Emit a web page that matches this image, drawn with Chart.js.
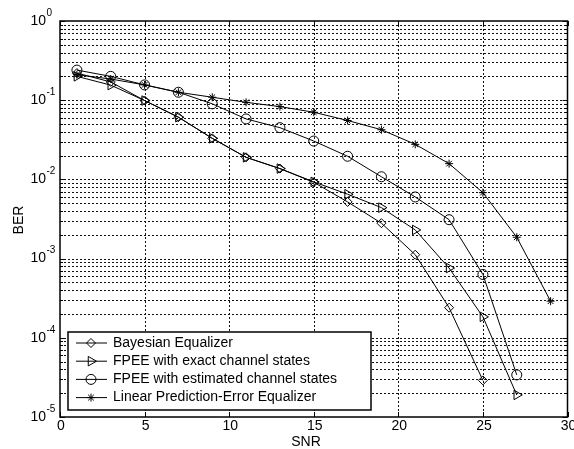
<!DOCTYPE html>
<html>
<head>
<meta charset="utf-8">
<script src="https://cdn.jsdelivr.net/npm/chart.js@4/dist/chart.umd.min.js"></script>
<style>
  html, body { margin: 0; padding: 0; background: #fff; }
  canvas { display: block; }
</style>
</head>
<body>
<canvas id="berchart" width="574" height="449"></canvas>
<script>
// SNR points (dB)
var snr = [1, 3, 5, 7, 9, 11, 13, 15, 17, 19, 21, 23, 25, 27, 29];

// BER values
var bayesian = [0.22, 0.17, 0.099, 0.061, 0.033, 0.019, 0.0137, 0.0092, 0.0052, 0.0028, 0.00112, 0.00024, 0.000029];
var fpeeExact = [0.2, 0.155, 0.099, 0.061, 0.033, 0.019, 0.0137, 0.0093, 0.0065, 0.0044, 0.0023, 0.00076, 0.000184, 0.000019];
var fpeeEstimated = [0.24, 0.2, 0.156, 0.126, 0.09, 0.058, 0.045, 0.0305, 0.0196, 0.0108, 0.006, 0.0031, 0.00063, 0.000034];
var linearPE = [0.21, 0.185, 0.156, 0.126, 0.109, 0.094, 0.083, 0.0705, 0.0554, 0.0424, 0.0277, 0.0158, 0.0068, 0.00186, 0.00029];

var seriesLabels = [
    'Bayesian Equalizer',
    'FPEE with exact channel states',
    'FPEE with estimated channel states',
    'Linear Prediction-Error Equalizer'
];
var xTicks = [0, 5, 10, 15, 20, 25, 30];
var yExponents = [0, -1, -2, -3, -4, -5];

var FONT = '"Liberation Sans", Arial, sans-serif';

var toPoints = function (values) {
    return values.map(function (v, i) { return { x: snr[i], y: v }; });
};

var markers = [
    { pointStyle: 'rectRot', radius: 4.5, rotation: 0 },
    { pointStyle: 'triangle', radius: 5.5, rotation: 90 },
    { pointStyle: 'circle', radius: 5, rotation: 0 },
    { pointStyle: 'star', radius: 4, rotation: 0 }
];

var makeDataset = function (label, values, m) {
    return {
        label: label,
        data: toPoints(values),
        borderColor: '#000',
        borderWidth: 1,
        pointStyle: m.pointStyle,
        pointRadius: m.radius,
        pointRotation: m.rotation,
        pointBorderColor: '#000',
        pointBorderWidth: 1,
        pointBackgroundColor: 'rgba(0,0,0,0)',
        tension: 0,
        fill: false
    };
};

// grid, axes box, tick labels
var axesPlugin = {
    id: 'axesPlugin',
    beforeDatasetsDraw: function (chart) {
        var ctx = chart.ctx;
        var a = chart.chartArea;
        var xs = chart.scales.x;
        var ys = chart.scales.y;
        ctx.save();
        ctx.strokeStyle = '#111';
        ctx.lineWidth = 1;
        ctx.setLineDash([2, 2]);
        ctx.beginPath();
        xTicks.forEach(function (t) {
            if (t === 0 || t === 30) return;
            var px = Math.round(xs.getPixelForValue(t)) + 0.5;
            ctx.moveTo(px, a.top);
            ctx.lineTo(px, a.bottom);
        });
        for (var e = -5; e < 0; e++) {
            for (var k = 1; k <= 9; k++) {
                if (e === -5 && k === 1) continue;
                var py = Math.round(ys.getPixelForValue(k * Math.pow(10, e))) + 0.5;
                ctx.moveTo(a.left, py);
                ctx.lineTo(a.right, py);
            }
        }
        ctx.stroke();
        ctx.restore();
    },
    afterDatasetsDraw: function (chart) {
        var ctx = chart.ctx;
        var a = chart.chartArea;
        var xs = chart.scales.x;
        var ys = chart.scales.y;
        ctx.save();
        ctx.strokeStyle = '#000';
        ctx.lineWidth = 1;
        ctx.setLineDash([]);
        // tick marks
        ctx.beginPath();
        xTicks.forEach(function (t) {
            var px = Math.round(xs.getPixelForValue(t)) + 0.5;
            ctx.moveTo(px, a.bottom); ctx.lineTo(px, a.bottom - 5);
            ctx.moveTo(px, a.top); ctx.lineTo(px, a.top + 5);
        });
        for (var e = -5; e <= 0; e++) {
            for (var k = 1; k <= 9; k++) {
                if (e === 0 && k > 1) break;
                var len = k === 1 ? 5 : 3;
                var py = Math.round(ys.getPixelForValue(k * Math.pow(10, e))) + 0.5;
                ctx.moveTo(a.left, py); ctx.lineTo(a.left + len, py);
                ctx.moveTo(a.right, py); ctx.lineTo(a.right - len, py);
            }
        }
        ctx.stroke();
        // box
        ctx.lineWidth = 1.5;
        ctx.strokeRect(a.left, a.top, a.right - a.left, a.bottom - a.top);

        // tick labels
        ctx.fillStyle = '#000';
        ctx.font = '14px ' + FONT;
        ctx.textAlign = 'center';
        ctx.textBaseline = 'middle';
        xTicks.forEach(function (t) {
            ctx.fillText(String(t), xs.getPixelForValue(t) + 1, a.bottom + 9);
        });
        yExponents.forEach(function (e) {
            var py = ys.getPixelForValue(Math.pow(10, e));
            ctx.font = '14px ' + FONT;
            ctx.textAlign = 'right';
            ctx.fillText('10', 46, py);
            ctx.font = '10px ' + FONT;
            ctx.textAlign = 'left';
            ctx.fillText(String(e), 46.5, py - 8);
        });

        // axis titles
        ctx.font = '14px ' + FONT;
        ctx.textAlign = 'center';
        ctx.fillText('SNR', 306, 442);
        ctx.save();
        ctx.translate(19, 220);
        ctx.rotate(-Math.PI / 2);
        ctx.fillText('BER', 0, 0);
        ctx.restore();
        ctx.restore();
    }
};

// legend box inside the axes, bottom-left
var legendPlugin = {
    id: 'legendPlugin',
    afterDraw: function (chart) {
        var ctx = chart.ctx;
        var box = { left: 68, top: 332, width: 303, height: 78 };
        ctx.save();
        ctx.fillStyle = '#fff';
        ctx.fillRect(box.left, box.top, box.width, box.height);
        ctx.strokeStyle = '#000';
        ctx.lineWidth = 1.5;
        ctx.strokeRect(box.left, box.top, box.width, box.height);
        ctx.lineWidth = 1;
        ctx.font = '14px ' + FONT;
        ctx.textAlign = 'left';
        ctx.textBaseline = 'middle';
        chart.data.datasets.forEach(function (ds, i) {
            var y = box.top + 11 + i * 18.2;
            ctx.strokeStyle = '#000';
            ctx.beginPath();
            ctx.moveTo(76, y);
            ctx.lineTo(107, y);
            ctx.stroke();
            ctx.fillStyle = 'rgba(0,0,0,0)';
            Chart.helpers.drawPoint(ctx, {
                pointStyle: ds.pointStyle,
                radius: ds.pointRadius,
                rotation: ds.pointRotation,
                borderWidth: 1
            }, 91, y);
            ctx.fillStyle = '#000';
            ctx.fillText(ds.label, 113, y);
        });
        ctx.restore();
    }
};

var ctx = document.getElementById('berchart').getContext('2d');
var berChart = new Chart(ctx, {
    type: 'line',
    data: {
        datasets: [
            makeDataset(seriesLabels[0], bayesian, markers[0]),
            makeDataset(seriesLabels[1], fpeeExact, markers[1]),
            makeDataset(seriesLabels[2], fpeeEstimated, markers[2]),
            makeDataset(seriesLabels[3], linearPE, markers[3])
        ]
    },
    options: {
        responsive: false,
        animation: false,
        devicePixelRatio: 1,
        layout: { padding: { left: 0, right: 5, top: 21, bottom: 0 } },
        plugins: {
            legend: { display: false },
            tooltip: { enabled: false }
        },
        scales: {
            x: {
                type: 'linear',
                min: 0,
                max: 30,
                grid: { display: false },
                border: { display: false },
                ticks: { display: false },
                afterFit: function (scale) { scale.height = 32; }
            },
            y: {
                type: 'logarithmic',
                min: 1e-5,
                max: 1,
                grid: { display: false },
                border: { display: false },
                ticks: { display: false },
                afterFit: function (scale) { scale.width = 60; }
            }
        }
    },
    plugins: [axesPlugin, legendPlugin]
});
</script>
</body>
</html>
